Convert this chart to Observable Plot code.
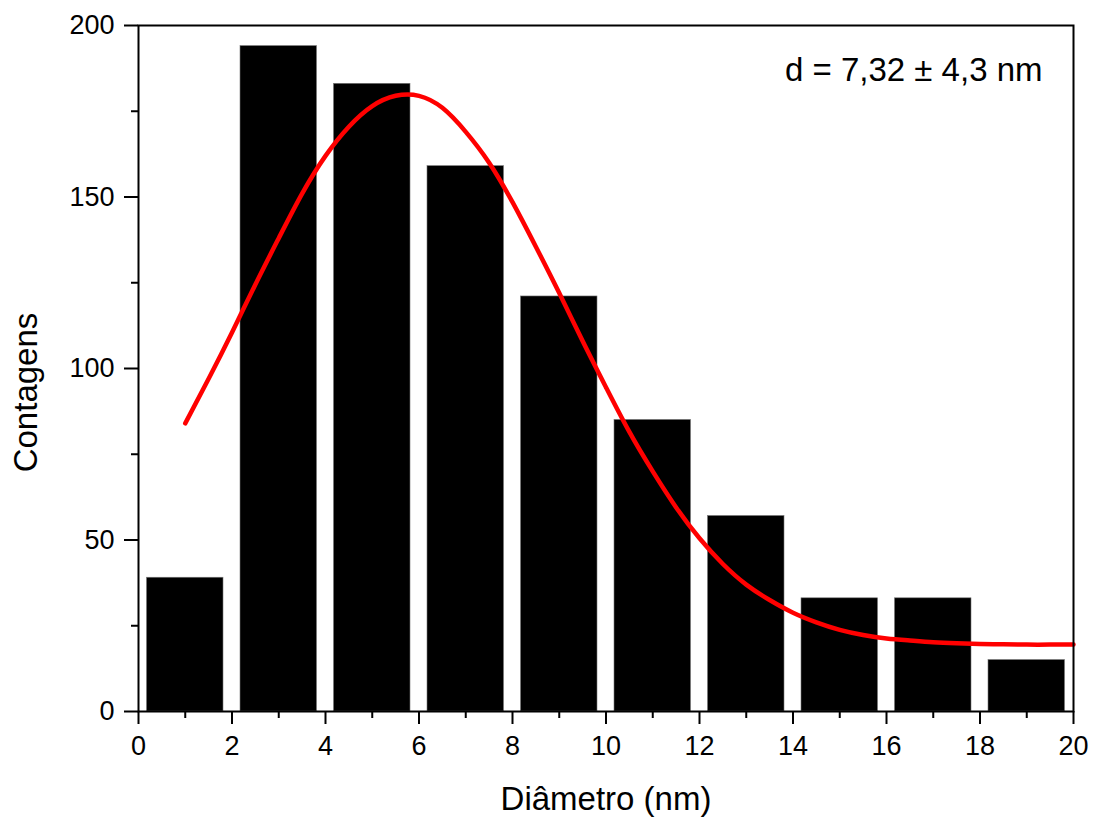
<!DOCTYPE html>
<html>
<head>
<meta charset="utf-8">
<script src="https://cdn.jsdelivr.net/npm/d3@7"></script>
<script src="https://cdn.jsdelivr.net/npm/@observablehq/plot@0.6"></script>
<style>
  body { margin: 0; background: #fff; }
  #chart svg { display: block; }
</style>
</head>
<body>
<div id="chart"></div>
<script>
// Histogram bins (nm) and counts
const binLo = [0, 2, 4, 6, 8, 10, 12, 14, 16, 18];
const binHi = [2, 4, 6, 8, 10, 12, 14, 16, 18, 20];
const counts = [39, 194, 183, 159, 121, 85, 57, 33, 33, 15];

// Fitted curve points
const curveX = [1, 1.5, 2, 2.5, 3, 3.5, 4, 4.5, 5, 5.5, 6, 6.5, 7, 7.5, 8, 8.5, 9, 9.5, 10, 10.5,
                11, 11.5, 12, 12.5, 13, 13.5, 14, 14.5, 15, 15.5, 16, 16.5, 17, 17.5, 18, 18.5, 19, 19.5, 20];
const curveY = [84, 97, 110.5, 124.5, 138, 151, 162, 170.5, 176.5, 179.5, 179.5, 176, 169, 160, 148.5, 135.5, 122, 108, 94.5, 81.5,
                70, 59.5, 50.5, 43, 37, 32.5, 28.8, 26, 23.8, 22.3, 21.3, 20.7, 20.2, 19.9, 19.7, 19.6, 19.5, 19.5, 19.5];

const xMajor = [0, 2, 4, 6, 8, 10, 12, 14, 16, 18, 20];
const xMinor = [1, 3, 5, 7, 9, 11, 13, 15, 17, 19];
const yMajor = [0, 50, 100, 150, 200];
const yMinor = [25, 75, 125, 175];

const xTitle = "Diâmetro (nm)";
const yTitle = "Contagens";
const note = "d = 7,32 ± 4,3 nm";

const bars = binLo.map((lo, i) => ({lo, hi: binHi[i], n: counts[i]}));
const curve = curveX.map((x, i) => ({x, y: curveY[i]}));

const font = "Liberation Sans, Arial, sans-serif";

const chart = Plot.plot({
  width: 1096,
  height: 821,
  marginLeft: 138,
  marginRight: 23,
  marginTop: 25,
  marginBottom: 110,
  style: {fontFamily: font, color: "black", background: "white"},
  x: {domain: [0, 20], label: null},
  y: {domain: [0, 200], label: null},
  marks: [
    Plot.rectY(bars, {x1: "lo", x2: "hi", y: "n", fill: "black", stroke: "#777", strokeWidth: 0.6, insetLeft: 8.5, insetRight: 8.5}),
    Plot.lineY(curve, {x: "x", y: "y", stroke: "#ff0000", strokeWidth: 4.5, curve: "natural"}),
    Plot.frame({stroke: "black", strokeWidth: 2}),
    Plot.axisX({ticks: xMajor, tickSize: 13, tickPadding: 11, strokeWidth: 2, fontSize: 27, label: null}),
    Plot.axisX({ticks: xMinor, tickSize: 7, strokeWidth: 2, tickFormat: () => "", label: null}),
    Plot.axisY({ticks: yMajor, tickSize: 14, tickPadding: 10, strokeWidth: 2, fontSize: 27, label: null}),
    Plot.axisY({ticks: yMinor, tickSize: 7, strokeWidth: 2, tickFormat: () => "", label: null}),
    Plot.text([xTitle], {frameAnchor: "bottom", lineAnchor: "bottom", dy: 98, fontSize: 33, fill: "black"}),
    Plot.text([yTitle], {frameAnchor: "left", textAnchor: "middle", lineAnchor: "bottom", rotate: -90, dx: -102, dy: 24, fontSize: 33, fill: "black"}),
    Plot.text([note], {frameAnchor: "top-right", textAnchor: "end", lineAnchor: "bottom", dx: -31, dy: 55, fontSize: 33, fill: "black"})
  ]
});

document.getElementById("chart").appendChild(chart);
</script>
</body>
</html>
